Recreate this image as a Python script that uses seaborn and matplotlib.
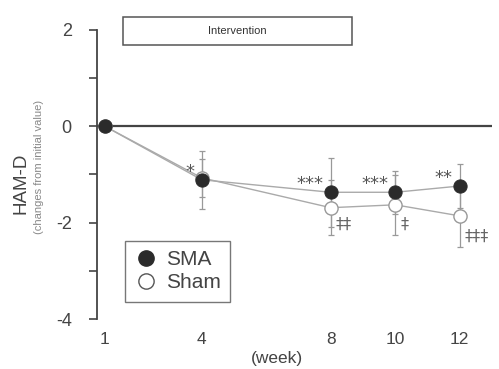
import numpy as np
import pandas as pd
import matplotlib
matplotlib.use("Agg")
import matplotlib.pyplot as plt
import seaborn as sns
from matplotlib.patches import Rectangle
from matplotlib.lines import Line2D

weeks = [1, 4, 8, 10, 12]
sma_mean = [0.0, -1.11, -1.37, -1.37, -1.24]
sma_err = [0.0, 0.6, 0.72, 0.45, 0.45]
sham_mean = [0.0, -1.07, -1.69, -1.63, -1.86]
sham_err = [0.0, 0.4, 0.57, 0.62, 0.65]
sma_marks = ["", "*", "***", "***", "**"]
sham_marks = ["", "", "‡‡", "‡", "‡‡‡"]
y_ticks = [2, 0, -2, -4]

sns.set_style("white")
plt.rcParams['font.family'] = ['Liberation Sans', 'DejaVu Sans']

df = pd.DataFrame({
    "week": weeks * 2,
    "value": sma_mean + sham_mean,
    "group": ["SMA"] * len(weeks) + ["Sham"] * len(weeks),
})

fig = plt.figure(figsize=(4.99, 3.69), dpi=100)
ax = fig.add_axes([0.194, 0.1355, 0.792, 0.7835])

ax.axhline(0, color="#444444", lw=1.6, zorder=1)

ax.errorbar(weeks, sham_mean, yerr=sham_err, fmt="none", ecolor="#999999",
            elinewidth=0.9, capsize=2, capthick=0.9, zorder=2)
ax.errorbar(weeks, sma_mean, yerr=sma_err, fmt="none", ecolor="#999999",
            elinewidth=0.9, capsize=2, capthick=0.9, zorder=2)

sns.lineplot(data=df[df.group == "Sham"], x="week", y="value", ax=ax,
             color="#aaaaaa", lw=1.0, marker="o", markersize=9.5,
             markerfacecolor="white", markeredgecolor="#999999",
             markeredgewidth=1.0, zorder=3, legend=False)
sns.lineplot(data=df[df.group == "SMA"], x="week", y="value", ax=ax,
             color="#aaaaaa", lw=1.0, marker="o", markersize=9.5,
             markerfacecolor="#2b2b2b", markeredgecolor="#2b2b2b",
             zorder=4, legend=False)

# significance marks
for w, m, s in zip(weeks, sma_mean, sma_marks):
    if s:
        ax.text(w - 0.22, m + 0.17, s, ha="right", va="center",
                fontsize=13, color="#555555", family="DejaVu Sans")
for w, m, e, s in zip(weeks, sham_mean, sham_err, sham_marks):
    if s:
        ax.text(w + 0.15, m - e + 0.22, s, ha="left", va="center",
                fontsize=11.5, color="#666666", family="DejaVu Sans")

ax.set_xlim(0.75, 13.0)
ax.set_ylim(-4, 2)
ax.set_xticks(weeks)
ax.set_xticklabels([str(w) for w in weeks], fontsize=12.5, color="#444444")
ax.set_yticks(y_ticks)
ax.set_yticklabels([str(t) for t in y_ticks], fontsize=13, color="#444444")
ax.set_yticks([1, -1, -3], minor=True)
ax.tick_params(axis="y", which="both", direction="out", length=6, width=1.2,
               color="#444444", left=True, pad=12)
ax.tick_params(axis="x", length=0, pad=9)
for s in ["top", "right", "bottom"]:
    ax.spines[s].set_visible(False)
ax.spines["left"].set_color("#444444")
ax.spines["left"].set_linewidth(1.3)

ax.set_xlabel("")
ax.set_ylabel("")
fig.text(0.555, 0.028, "(week)", ha="center", va="center", fontsize=12.5,
         color="#444444")
fig.text(0.043, 0.504, "HAM-D", rotation=90, ha="center", va="center",
         fontsize=13.5, color="#444444")
fig.text(0.079, 0.548, "(changes from initial value)", rotation=90,
         ha="center", va="center", fontsize=8, color="#888888")

# intervention box
rect = Rectangle((0.066, 0.948), 0.58, 0.097, transform=ax.transAxes,
                 fill=False, edgecolor="#555555", lw=1.1, clip_on=False)
ax.add_patch(rect)
ax.text(0.066 + 0.29, 0.996, "Intervention", transform=ax.transAxes,
        ha="center", va="center", fontsize=8, color="#333333")

# legend
handles = [
    Line2D([], [], ls="none", marker="o", markersize=11,
           markerfacecolor="#2b2b2b", markeredgecolor="#2b2b2b"),
    Line2D([], [], ls="none", marker="o", markersize=11,
           markerfacecolor="white", markeredgecolor="#555555"),
]
leg = ax.legend(handles, ["SMA", "Sham"], loc="lower left",
                bbox_to_anchor=(0.072, 0.06), fontsize=15, frameon=True,
                fancybox=False, edgecolor="#555555", handletextpad=0.4,
                borderpad=0.45, labelspacing=0.2, handlelength=1.1,
                borderaxespad=0)
leg.get_frame().set_linewidth(1.0)
for t in leg.get_texts():
    t.set_color("#444444")

fig.savefig("out.png", dpi=100)
